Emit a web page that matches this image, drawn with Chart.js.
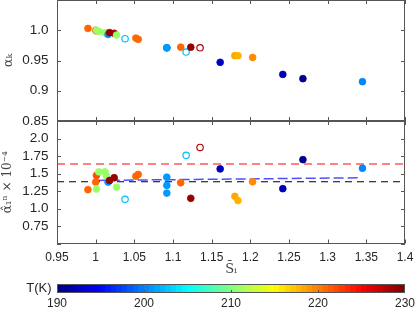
<!DOCTYPE html>
<html><head><meta charset="utf-8">
<script src="https://cdn.jsdelivr.net/npm/chart.js@4.4.1/dist/chart.umd.min.js"></script>
<style>
html,body{margin:0;padding:0;background:#fff;}
#wrap{position:relative;width:415px;height:312px;overflow:hidden;background:#fff;}
canvas{position:absolute;left:0;background:transparent;}
#cTop{z-index:3;}
</style></head><body>
<div id="wrap">
<canvas id="cTop" width="415" height="132" style="top:0px;width:415px;height:132px"></canvas>
<canvas id="cBot" width="415" height="159" style="top:121px;width:415px;height:159px"></canvas>
<canvas id="cBar" width="415" height="32" style="top:280px;width:415px;height:32px"></canvas>
</div>
<script>
// ---- data ----
const S      = [0.990,1.000,1.001,1.001,1.004,1.012,1.014,1.016,1.018,1.024,1.027,1.038,1.052,1.055,1.092,1.092,1.092,1.110,1.117,1.123,1.135,1.161,1.180,1.184,1.203,1.242,1.268,1.345];
const alphaK = [1.003,1.000,0.999,1.000,0.998,0.996,0.995,0.993,0.996,0.995,0.992,0.986,0.987,0.985,0.971,0.971,0.971,0.972,0.964,0.972,0.971,0.947,0.958,0.958,0.955,0.927,0.920,0.915];
const alpha1 = [1.269,1.377,1.472,1.278,1.524,1.524,1.462,1.377,1.400,1.439,1.306,1.132,1.462,1.486,1.447,1.330,1.220,1.368,1.759,1.146,1.872,1.566,1.174,1.113,1.382,1.283,1.698,1.575];
const tempK  = [221,221,222,211,211,211,211,201,229,229,211,202.5,221,221,201,201,201,221,202.5,229,228,192.5,218.5,218,219.5,192,190.5,200.3];
const hollow = [0,0,0,0,0,0,0,0,0,0,0,1,0,0,0,0,0,0,1,0,1,0,0,0,0,0,0,0];
const redLine   = [[0.95,1.637],[1.40,1.637]];
const blackLine = [[0.95,1.382],[1.40,1.382]];
const blueLine  = [[1.000,1.401],[1.343,1.439]];
const xTicks = [0.95,1.0,1.05,1.1,1.15,1.2,1.25,1.3,1.35,1.4];
const xTickLabels = ['0.95','1','1.05','1.1','1.15','1.2','1.25','1.3','1.35','1.4'];
const yTopTicks = [0.85,0.9,0.95,1.0,1.05];
const yTopLabels = ['0.85','0.9','0.95','1.0',''];
const yBotTicks = [0.5,0.75,1.0,1.25,1.5,1.75,2.0,2.25];
const yBotLabels = ['','0.75','1.0','1.25','1.5','1.75','2.0',''];
const cbTicks = [190,200,210,220,230];
const cbLabels = ['190','200','210','220','230'];

// ---- helpers ----
function clamp(v){return Math.max(0,Math.min(1,v));}
function jet(T){
  const t = clamp((T-190)/40);
  const r=clamp(1.5-Math.abs(4*t-3)), g=clamp(1.5-Math.abs(4*t-2)), b=clamp(1.5-Math.abs(4*t-1));
  return `rgb(${Math.round(r*255)},${Math.round(g*255)},${Math.round(b*255)})`;
}
const TXT='#262626', FRAME='#555';
const SANS='"Liberation Sans", Arial, Helvetica, sans-serif';
const SERIF='"DejaVu Serif", "Liberation Serif", serif';
const NOGRID = {display:false, drawTicks:false};

const framePlugin = {
  id:'frame',
  afterDraw(chart, args, o){
    if(!o || !o.on) return;
    const {ctx, chartArea:{left,right,top,bottom}} = chart;
    const xs = chart.scales.x, ys = chart.scales.y;
    ctx.save();
    ctx.strokeStyle = FRAME; ctx.lineWidth = 1;
    ctx.strokeRect(Math.round(left)+0.5, Math.round(top)+0.5, Math.round(right-left)-1, Math.round(bottom-top)-1);
    ctx.beginPath();
    const L=4;
    (o.xt||[]).forEach(v=>{
      const p = Math.round(xs.getPixelForValue(v))+0.5;
      if(o.xBottom){ctx.moveTo(p,bottom); ctx.lineTo(p,bottom-L);}
      if(o.xTop){ctx.moveTo(p,top); ctx.lineTo(p,top+L);}
    });
    (o.yt||[]).forEach(v=>{
      const p = Math.round(ys.getPixelForValue(v))+0.5;
      ctx.moveTo(left,p); ctx.lineTo(left+L,p);
      ctx.moveTo(right,p); ctx.lineTo(right-L,p);
    });
    ctx.stroke();
    ctx.restore();
  }
};

function fixTicks(vals){ return function(scale){ scale.ticks = vals.map(v=>({value:v})); }; }

function pts(yArr){ return S.map((s,i)=>({x:s,y:yArr[i]})); }
const colors = tempK.map(jet);
function pointDS(yArr){
  return {
    type:'scatter', data:pts(yArr), order:0, clip:false,
    pointRadius: hollow.map(h=>h?3.2:3.4),
    pointBackgroundColor: colors.map((c,i)=>hollow[i]?'#ffffff':c),
    pointBorderColor: colors,
    pointBorderWidth: hollow.map(h=>h?1.2:0.8),
  };
}
function lineDS(arr,color,dash,w){
  return {type:'line', data:arr.map(p=>({x:p[0],y:p[1]})), borderColor:color, borderDash:dash, borderWidth:w, pointRadius:0, fill:false, order:1, tension:0};
}

const common = {
  responsive:false, animation:false, devicePixelRatio:1,
  plugins:{legend:{display:false}, tooltip:{enabled:false}},
};

// ---- top panel ----
new Chart(document.getElementById('cTop'), {
  data:{datasets:[pointDS(alphaK)]},
  options:{...common,
    layout:{autoPadding:false, padding:{left:0,right:10,top:0,bottom:11}},
    plugins:{...common.plugins, frame:{on:true, xt:xTicks, yt:yTopTicks, xBottom:true, xTop:true}},
    scales:{
      x:{type:'linear', min:0.95, max:1.4, afterBuildTicks:fixTicks(xTicks),
         ticks:{display:false}, grid:NOGRID, border:{display:false},
         afterFit:s=>{s.height=0;}},
      y:{type:'linear', min:0.85, max:1.05, afterBuildTicks:fixTicks(yTopTicks),
         ticks:{color:TXT, font:{family:SANS,size:13.5}, padding:8.5, autoSkip:false, callback:(v,i)=>yTopLabels[i]},
         grid:NOGRID, border:{display:false},
         title:{display:true, text:'α\u2096', color:'#444', font:{family:SERIF,size:13}, padding:{top:1,bottom:0}},
         afterFit:s=>{s.width=57; s.paddingTop=0; s.paddingBottom=0;}}
    }
  },
  plugins:[framePlugin]
});

// ---- bottom panel ----
new Chart(document.getElementById('cBot'), {
  data:{datasets:[
    lineDS(redLine,'rgba(255,80,80,0.95)',[8,5],1.5),
    lineDS(blackLine,'#000000',[7,5],1.2),
    lineDS(blueLine,'rgba(60,60,255,0.9)',[10,4],1.5),
    pointDS(alpha1)
  ]},
  options:{...common,
    layout:{autoPadding:false, padding:{left:0,right:10,top:0,bottom:0}},
    plugins:{...common.plugins, frame:{on:true, xt:xTicks, yt:yBotTicks, xBottom:true, xTop:true}},
    scales:{
      x:{type:'linear', min:0.95, max:1.4, afterBuildTicks:fixTicks(xTicks),
         ticks:{color:TXT, font:{family:SANS,size:12}, padding:7, maxRotation:0, autoSkip:false, callback:(v,i)=>xTickLabels[i]},
         grid:NOGRID, border:{display:false},
         title:{display:true, text:'S\u0304\u1D62', color:'#444', font:{family:SERIF,size:13}, padding:{top:0,bottom:3}},
         afterFit:s=>{s.height=36.5; s.paddingLeft=0; s.paddingRight=0;}},
      y:{type:'linear', min:0.5, max:2.25, afterBuildTicks:fixTicks(yBotTicks),
         ticks:{color:TXT, font:{family:SANS,size:13.5}, padding:8.5, autoSkip:false, callback:(v,i)=>yBotLabels[i]},
         grid:NOGRID, border:{display:false},
         title:{display:true, text:'α\u0302\u2081\u207F × 10\u207B\u2074', color:'#444', font:{family:SERIF,size:12}, padding:{top:1,bottom:0}},
         afterFit:s=>{s.width=57; s.paddingTop=0; s.paddingBottom=0;}}
    }
  },
  plugins:[framePlugin]
});

// ---- colorbar ----
const jetBarPlugin = {
  id:'jetbar',
  beforeDatasetsDraw(chart){
    const {ctx, chartArea:{top,bottom}} = chart;
    const xs = chart.scales.x;
    const n=64;
    for(let i=0;i<n;i++){
      const t0 = 190 + 40*i/n, t1 = 190 + 40*(i+1)/n;
      const x0 = xs.getPixelForValue(t0), x1 = xs.getPixelForValue(t1);
      ctx.fillStyle = jet(190 + 40*(i+0.5)/n);
      ctx.fillRect(Math.floor(x0), top, Math.ceil(x1)-Math.floor(x0), bottom-top);
    }
    ctx.save();
    ctx.strokeStyle = FRAME; ctx.lineWidth=1;
    ctx.strokeRect(Math.round(chart.chartArea.left)+0.5, Math.round(top)+0.5, Math.round(chart.chartArea.right-chart.chartArea.left)-1, Math.round(bottom-top)-1);
    ctx.beginPath();
    cbTicks.slice(1,-1).forEach(v=>{
      const p=Math.round(xs.getPixelForValue(v))+0.5;
      ctx.moveTo(p,bottom); ctx.lineTo(p,bottom-3);
    });
    ctx.stroke();
    ctx.restore();
  }
};
new Chart(document.getElementById('cBar'), {
  type:'scatter',
  data:{datasets:[{data:[], pointRadius:0}]},
  options:{...common,
    layout:{autoPadding:false, padding:{left:0,right:10,top:4,bottom:0}},
    scales:{
      x:{type:'linear', min:190, max:230, afterBuildTicks:fixTicks(cbTicks),
         ticks:{color:TXT, font:{family:SANS,size:12}, padding:3, maxRotation:0, autoSkip:false, callback:(v,i)=>cbLabels[i]},
         grid:NOGRID, border:{display:false},
         afterFit:s=>{s.height=19; s.paddingLeft=0; s.paddingRight=0;}},
      y:{type:'category', labels:['T(K)'], offset:true,
         ticks:{color:TXT, font:{family:SANS,size:13}, padding:5.5},
         grid:NOGRID, border:{display:false},
         afterFit:s=>{s.width=57; s.paddingTop=0; s.paddingBottom=0;}}
    }
  },
  plugins:[jetBarPlugin]
});
</script>
</body></html>
